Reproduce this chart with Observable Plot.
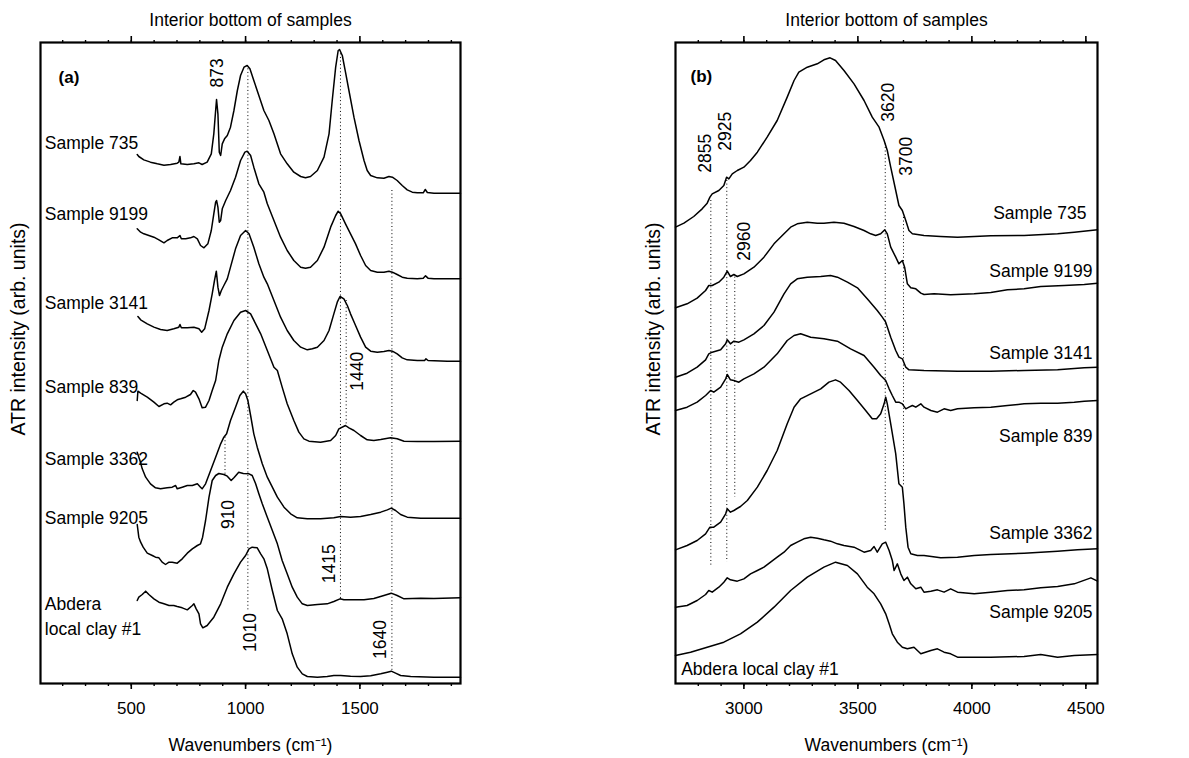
<!DOCTYPE html>
<html><head><meta charset="utf-8">
<script src="https://cdn.jsdelivr.net/npm/d3@7"></script>
<script src="https://cdn.jsdelivr.net/npm/@observablehq/plot@0.6"></script>
<style>
body{margin:0;background:#fff;}
#wrap{position:relative;width:1189px;height:758px;}
#left{position:absolute;left:0;top:0;}
#right{position:absolute;left:590px;top:0;}
</style></head><body><div id="wrap"><div id="left"></div><div id="right"></div></div>
<script>
// ---------- Panel (a): 500-1940 cm-1 ----------
const leftNames = ["Sample 735","Sample 9199","Sample 3141","Sample 839","Sample 3362","Sample 9205","Abdera local clay #1"];
const leftNameText = ["Sample 735","Sample 9199","Sample 3141","Sample 839","Sample 3362","Sample 9205","Abdera\nlocal clay #1"];
const leftNameX = [122,122,122,122,122,122,122];
const leftNameY = [1629,1414,1149,897,679,504,206];

const L735 = [[526,1587],[533,1581],[555,1571],[584,1564],[614,1559],[643,1555],[672,1557],[701,1561],[708,1564],[713,1581],[717,1559],[745,1557],[774,1559],[796,1562],[810,1557],[832,1564],[850,1589],[861,1649],[869,1719],[873,1752],[879,1709],[885,1594],[891,1584],[898,1619],[908,1634],[920,1644],[934,1669],[949,1719],[964,1779],[978,1824],[993,1849],[1007,1854],[1019,1844],[1036,1809],[1058,1764],[1080,1719],[1102,1689],[1124,1649],[1153,1589],[1182,1559],[1211,1534],[1241,1521],[1262,1517],[1284,1521],[1314,1539],[1343,1579],[1365,1649],[1379,1749],[1394,1849],[1405,1899],[1411,1902],[1423,1884],[1437,1834],[1452,1779],[1474,1699],[1496,1629],[1518,1569],[1532,1539],[1547,1524],[1576,1517],[1605,1516],[1627,1521],[1642,1519],[1663,1509],[1685,1494],[1707,1481],[1729,1474],[1751,1472],[1777,1472],[1786,1482],[1795,1473],[1824,1471],[1882,1471],[1940,1471]];
const L9199 = [[526,1364],[541,1354],[555,1349],[577,1344],[599,1339],[621,1331],[643,1322],[657,1329],[679,1337],[701,1337],[713,1344],[719,1334],[738,1334],[759,1337],[774,1341],[789,1334],[803,1314],[818,1307],[835,1319],[850,1359],[861,1409],[869,1444],[873,1449],[879,1429],[885,1384],[891,1389],[898,1424],[913,1449],[934,1479],[956,1519],[978,1569],[997,1594],[1007,1597],[1022,1584],[1036,1549],[1058,1499],[1080,1474],[1095,1439],[1124,1389],[1153,1339],[1182,1299],[1211,1269],[1241,1249],[1262,1246],[1284,1249],[1314,1269],[1343,1309],[1372,1369],[1394,1404],[1405,1417],[1416,1409],[1437,1379],[1459,1349],[1481,1319],[1503,1284],[1525,1254],[1547,1239],[1576,1234],[1605,1234],[1627,1237],[1642,1234],[1663,1227],[1685,1219],[1707,1216],[1751,1214],[1777,1216],[1787,1223],[1798,1216],[1824,1214],[1882,1214],[1940,1214]];
const L3141 = [[529,1101],[541,1091],[570,1079],[599,1069],[628,1062],[657,1059],[686,1064],[708,1069],[713,1077],[719,1067],[745,1067],[774,1069],[796,1064],[808,1054],[821,1064],[840,1119],[854,1169],[864,1209],[872,1237],[879,1189],[886,1164],[894,1179],[905,1194],[920,1214],[934,1249],[956,1304],[978,1344],[1000,1359],[1015,1349],[1036,1309],[1058,1259],[1080,1219],[1095,1199],[1124,1149],[1153,1099],[1182,1059],[1211,1029],[1241,1009],[1270,1001],[1292,1004],[1314,1009],[1343,1029],[1365,1059],[1386,1109],[1401,1144],[1413,1161],[1430,1154],[1445,1134],[1459,1109],[1481,1074],[1503,1039],[1525,1009],[1547,997],[1576,994],[1605,996],[1627,999],[1642,997],[1663,989],[1685,977],[1707,971],[1751,969],[1783,969],[1789,974],[1798,969],[1882,967],[1940,967]];
const L839 = [[526,849],[529,877],[541,871],[570,859],[599,844],[621,831],[643,839],[657,841],[672,836],[686,844],[701,851],[716,854],[738,859],[759,867],[771,879],[781,874],[796,854],[810,827],[825,829],[840,849],[854,879],[869,909],[883,969],[898,1009],[920,1049],[949,1089],[978,1114],[1000,1119],[1022,1109],[1044,1079],[1066,1049],[1095,999],[1124,949],[1139,939],[1160,889],[1182,839],[1211,789],[1233,754],[1255,734],[1277,727],[1328,724],[1372,729],[1394,744],[1408,764],[1437,774],[1452,767],[1474,759],[1503,744],[1532,731],[1561,729],[1591,732],[1634,737],[1663,734],[1693,727],[1751,726],[1824,726],[1940,727]];
const L3362 = [[526,694],[538,669],[548,644],[563,619],[584,599],[606,587],[628,584],[657,587],[679,589],[694,594],[701,584],[723,589],[745,594],[767,594],[789,599],[803,589],[810,584],[825,599],[847,639],[869,679],[891,719],[905,739],[917,749],[934,789],[956,829],[975,864],[990,877],[1000,869],[1010,849],[1022,804],[1036,749],[1051,709],[1073,659],[1095,619],[1117,589],[1139,559],[1168,529],[1197,509],[1226,497],[1270,494],[1328,494],[1386,497],[1416,501],[1459,499],[1503,501],[1547,507],[1591,514],[1620,521],[1637,526],[1656,519],[1678,507],[1707,499],[1766,496],[1824,496],[1940,496]];
const L9205 = [[526,477],[533,439],[541,424],[552,409],[570,391],[592,384],[606,379],[621,377],[635,364],[650,357],[665,364],[679,364],[701,361],[723,374],[745,391],[767,404],[789,414],[803,419],[812,439],[825,489],[840,559],[854,609],[869,624],[883,630],[905,627],[920,622],[937,609],[950,618],[970,634],[990,630],[1015,629],[1029,624],[1044,599],[1058,569],[1073,539],[1095,499],[1117,459],[1139,419],[1160,369],[1182,329],[1204,289],[1226,259],[1248,239],[1270,234],[1314,237],[1357,239],[1386,246],[1413,254],[1430,251],[1474,251],[1518,251],[1561,255],[1605,264],[1637,271],[1663,264],[1693,254],[1766,256],[1824,255],[1940,257]];
const LAbdera = [[526,249],[533,259],[548,267],[563,277],[577,267],[599,254],[621,244],[643,239],[665,234],[686,234],[701,231],[723,227],[745,221],[767,234],[774,239],[784,224],[796,209],[803,179],[813,167],[832,174],[861,199],[891,239],[920,289],[949,329],[978,364],[1000,384],[1015,404],[1029,409],[1051,407],[1066,389],[1080,374],[1095,344],[1117,279],[1139,219],[1160,194],[1182,149],[1204,89],[1226,49],[1248,29],[1270,21],[1314,19],[1357,21],[1386,24],[1416,24],[1459,22],[1503,21],[1547,23],[1591,29],[1620,34],[1637,37],[1656,31],[1678,24],[1722,21],[1824,19],[1940,19]];
const leftCurves = [L735, L9199, L3141, L839, L3362, L9205, LAbdera];

const leftPeakW = [1010, 1415, 1440, 1640, 910];
const leftPeakTop = [1844, 1889, 1149, 1479, 739];
const leftPeakBottom = [219, 249, 769, 34, 624];
const leftPeakLabels = ["873","1010","1415","1440","1640","910"];
const leftPeakLabelX = [876, 1022, 1365, 1491, 1591, 924];
const leftPeakLabelY = [1832, 153, 359, 937, 132, 507];
const leftMinorTicks = [200,300,400,500,600,700,800,900,1000,1100,1200,1300,1400,1500,1600,1700,1800,1900];
const leftMajorTicks = [500,1000,1500];

// ---------- Panel (b): 2700-4550 cm-1 ----------
const rightNames = leftNames;
const rightNameText = ["Sample 735","Sample 9199","Sample 3141","Sample 839","Sample 3362","Sample 9205","Abdera local clay #1"];
const rightNameX = [4503,4529,4529,4529,4529,4529,2725];
const rightNameY = [1417,1244,999,749,457,221,49];
const rightNameAnchor = ["end","end","end","end","end","end","start"];

const R735 = [[2700,1369],[2737,1381],[2780,1401],[2817,1424],[2839,1441],[2851,1459],[2861,1469],[2890,1479],[2912,1494],[2924,1519],[2934,1514],[2949,1529],[2971,1539],[3000,1549],[3029,1569],[3059,1594],[3102,1639],[3146,1689],[3190,1759],[3220,1809],[3241,1834],[3278,1849],[3322,1859],[3351,1871],[3378,1877],[3402,1869],[3439,1839],[3483,1799],[3527,1749],[3563,1699],[3593,1669],[3615,1629],[3629,1599],[3644,1549],[3666,1479],[3680,1434],[3695,1419],[3710,1389],[3724,1359],[3739,1349],[3790,1344],[3863,1341],[3937,1339],[4010,1341],[4083,1343],[4229,1344],[4376,1349],[4449,1354],[4551,1361]];
const R9199 = [[2700,1127],[2751,1139],[2795,1156],[2832,1179],[2846,1194],[2861,1194],[2890,1204],[2912,1219],[2927,1237],[2941,1221],[2956,1227],[2971,1221],[3000,1229],[3044,1249],[3088,1279],[3132,1319],[3176,1349],[3205,1369],[3234,1379],[3278,1384],[3322,1381],[3351,1381],[3395,1384],[3439,1381],[3483,1371],[3527,1359],[3556,1349],[3578,1344],[3600,1349],[3618,1361],[3629,1349],[3644,1309],[3666,1279],[3680,1259],[3695,1269],[3705,1249],[3717,1199],[3732,1187],[3754,1184],[3776,1171],[3790,1167],[3834,1169],[3907,1166],[4010,1169],[4083,1173],[4156,1181],[4229,1184],[4302,1191],[4405,1194],[4493,1197],[4551,1201]];
const R3141 = [[2700,919],[2751,931],[2795,949],[2832,971],[2846,989],[2861,994],[2898,1001],[2920,1019],[2927,1031],[2941,1019],[2956,1027],[2978,1024],[3000,1031],[3044,1049],[3088,1074],[3132,1114],[3176,1169],[3205,1199],[3234,1214],[3278,1219],[3337,1221],[3380,1224],[3410,1219],[3454,1204],[3498,1187],[3541,1154],[3585,1119],[3607,1099],[3622,1084],[3644,1039],[3666,999],[3680,979],[3695,974],[3710,949],[3724,941],[3790,939],[3937,937],[4083,937],[4229,939],[4376,941],[4493,947],[4551,949]];
const R839 = [[2700,819],[2751,829],[2795,844],[2832,864],[2854,879],[2868,874],[2898,889],[2920,914],[2927,927],[2941,911],[2956,909],[2978,904],[3000,914],[3044,929],[3088,949],[3146,989],[3190,1029],[3220,1044],[3249,1049],[3293,1039],[3351,1034],[3410,1027],[3468,1004],[3527,984],[3571,949],[3600,924],[3622,909],[3637,884],[3651,864],[3666,844],[3680,844],[3695,839],[3710,824],[3724,829],[3739,834],[3754,829],[3776,839],[3790,829],[3820,819],[3849,814],[3878,824],[3907,819],[3937,824],[4010,827],[4083,829],[4156,834],[4229,839],[4302,841],[4376,841],[4449,844],[4493,847],[4551,849]];
const R3362 = [[2700,401],[2751,414],[2795,429],[2832,449],[2851,469],[2868,469],[2898,484],[2920,509],[2927,524],[2941,514],[2956,519],[2985,531],[3015,549],[3059,589],[3102,639],[3146,699],[3190,779],[3220,829],[3249,854],[3293,869],[3337,884],[3373,904],[3402,911],[3424,904],[3461,879],[3498,849],[3534,819],[3563,794],[3582,794],[3600,809],[3615,839],[3622,859],[3629,839],[3644,779],[3666,689],[3680,599],[3695,589],[3702,539],[3710,469],[3720,409],[3732,389],[3761,384],[3790,384],[3863,377],[3937,379],[4010,384],[4083,387],[4229,391],[4376,397],[4463,401],[4551,404]];
const R9205 = [[2700,229],[2751,234],[2795,249],[2832,267],[2846,279],[2861,274],[2890,289],[2912,304],[2927,317],[2941,311],[2971,307],[3000,314],[3029,329],[3059,339],[3088,349],[3117,364],[3146,379],[3176,394],[3205,414],[3234,424],[3263,434],[3293,439],[3322,436],[3351,431],[3380,427],[3410,419],[3439,414],[3483,409],[3527,394],[3556,399],[3571,411],[3585,394],[3607,419],[3622,424],[3637,399],[3651,369],[3659,339],[3673,359],[3688,329],[3702,309],[3717,319],[3732,299],[3754,284],[3776,289],[3790,274],[3820,277],[3849,281],[3878,274],[3907,284],[3937,274],[4010,269],[4083,274],[4156,279],[4229,281],[4302,287],[4376,291],[4449,299],[4522,317],[4551,307]];
const RAbdera = [[2700,84],[2766,94],[2839,109],[2912,124],[2985,149],[3059,184],[3132,229],[3205,279],[3278,319],[3351,349],[3402,364],[3454,354],[3498,329],[3541,289],[3571,269],[3600,239],[3622,209],[3637,179],[3651,149],[3673,124],[3695,109],[3717,104],[3746,109],[3776,89],[3820,99],[3849,104],[3878,94],[3907,89],[3937,79],[4083,79],[4229,81],[4302,87],[4376,79],[4449,84],[4551,87]];
const rightCurves = [R735, R9199, R3141, R839, R3362, R9205, RAbdera];

const rightPeakW = [2855, 2925, 2960, 3620, 3700];
const rightPeakTop = [1449, 1509, 1219, 1619, 1409];
const rightPeakBottom = [349, 364, 559, 459, 589];
const rightPeakLabels = ["2855","2925","2960","3620","3700"];
const rightPeakLabelX = [2832, 2920, 3003, 3634, 3714];
const rightPeakLabelY = [1591, 1657, 1327, 1744, 1582];
const rightMinorTicks = [2800,2900,3000,3100,3200,3300,3400,3500,3600,3700,3800,3900,4000,4100,4200,4300,4400,4500];
const rightMajorTicks = [3000,3500,4000,4500];

const FONT = "'Liberation Sans', Arial, Helvetica, sans-serif";

function panel(cfg) {
  const rows = [];
  cfg.curves.forEach((c, i) => c.forEach(([w, v]) => rows.push({series: cfg.names[i], w, v})));
  const peaks = cfg.peakW.map((w, i) => ({w, top: cfg.peakTop[i], bottom: cfg.peakBottom[i]}));
  const peakLabels = cfg.peakLabels.map((t, i) => ({t, w: cfg.peakLabelX[i], v: cfg.peakLabelY[i]}));
  const names = cfg.nameText.map((t, i) => ({t, w: cfg.nameX[i], v: cfg.nameY[i], a: cfg.nameAnchor[i]}));
  const noText = () => "";
  return Plot.plot({
    width: cfg.width, height: 758,
    marginLeft: cfg.ml, marginRight: cfg.mr, marginTop: 42, marginBottom: 75,
    style: {fontFamily: FONT, fontSize: "17px", color: "#000", background: "transparent"},
    x: {domain: cfg.domain, label: null},
    y: {domain: [0, 1923], axis: null},
    marks: [
      Plot.ruleX(peaks, {x: "w", y1: "top", y2: "bottom", stroke: "#000", strokeWidth: 1, strokeDasharray: "1,2.6"}),
      Plot.line(rows, {x: "w", y: "v", z: "series", stroke: "#000", strokeWidth: 1.5, curve: "linear"}),
      Plot.frame({stroke: "#000", strokeWidth: 2.2}),
      Plot.axisX({anchor: "bottom", ticks: cfg.minor, tickSize: 3, tickFormat: noText, strokeWidth: 1.4, label: null}),
      Plot.axisX({anchor: "bottom", ticks: cfg.major, tickSize: 6, tickPadding: 12, tickFormat: "d", fontSize: 17, strokeWidth: 1.6, label: null}),
      Plot.axisX({anchor: "top", ticks: cfg.minor, tickSize: 3, tickFormat: noText, strokeWidth: 1.4, label: null}),
      Plot.axisX({anchor: "top", ticks: cfg.major, tickSize: 7, tickFormat: noText, strokeWidth: 1.6, label: null}),
      Plot.text(peakLabels, {x: "w", y: "v", text: "t", rotate: -90, fontSize: 17.5, fill: "#000"}),
      Plot.text(names.filter(d => d.a === "start"), {x: "w", y: "v", text: "t", textAnchor: "start", fontSize: 17.5, lineHeight: 1.43, fill: "#000"}),
      Plot.text(names.filter(d => d.a === "end"), {x: "w", y: "v", text: "t", textAnchor: "end", fontSize: 17.5, lineHeight: 1.43, fill: "#000"}),
      Plot.text([cfg.tag], {x: cfg.tagX, y: cfg.tagY, text: d => d, textAnchor: "start", fontWeight: "bold", fontSize: 17, fill: "#000"}),
      Plot.text(["Interior bottom of samples"], {frameAnchor: "top", textAnchor: "middle", lineAnchor: "middle", dy: -22, fontSize: 17.5, fill: "#000"}),
      Plot.text(["Wavenumbers (cm\u207B\u00B9)"], {frameAnchor: "bottom", textAnchor: "middle", lineAnchor: "middle", dy: 62, fontSize: 17.5, fill: "#000"}),
      Plot.text(["ATR intensity (arb. units)"], {frameAnchor: "left", textAnchor: "middle", lineAnchor: "middle", rotate: -90, dx: -22, dy: -34, fontSize: 19.5, fill: "#000"})
    ]
  });
}

document.getElementById("left").appendChild(panel({
  width: 590, ml: 40, mr: 130, domain: [103, 1940],
  curves: leftCurves, names: leftNames, nameText: leftNameText, nameX: leftNameX, nameY: leftNameY,
  nameAnchor: leftNames.map(() => "start"),
  peakW: leftPeakW, peakTop: leftPeakTop, peakBottom: leftPeakBottom,
  peakLabels: leftPeakLabels, peakLabelX: leftPeakLabelX, peakLabelY: leftPeakLabelY,
  minor: leftMinorTicks, major: leftMajorTicks, tag: "(a)", tagX: 182, tagY: 1819
}));
document.getElementById("right").appendChild(panel({
  width: 599, ml: 85, mr: 92, domain: [2700, 4551],
  curves: rightCurves, names: rightNames, nameText: rightNameText, nameX: rightNameX, nameY: rightNameY,
  nameAnchor: rightNameAnchor,
  peakW: rightPeakW, peakTop: rightPeakTop, peakBottom: rightPeakBottom,
  peakLabels: rightPeakLabels, peakLabelX: rightPeakLabelX, peakLabelY: rightPeakLabelY,
  minor: rightMinorTicks, major: rightMajorTicks, tag: "(b)", tagX: 2766, tagY: 1821
}));
</script>
</body></html>
